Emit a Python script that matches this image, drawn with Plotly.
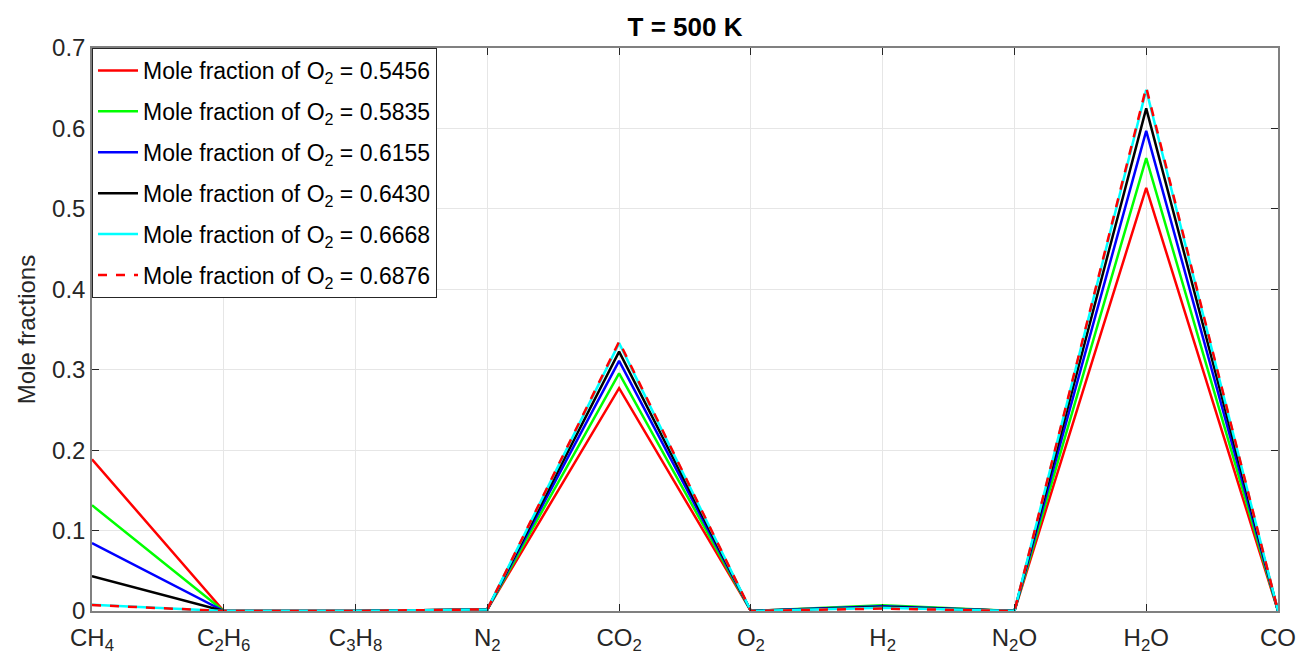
import plotly.graph_objects as go

species = ["CH<sub>4</sub>", "C<sub>2</sub>H<sub>6</sub>", "C<sub>3</sub>H<sub>8</sub>", "N<sub>2</sub>",
           "CO<sub>2</sub>", "O<sub>2</sub>", "H<sub>2</sub>", "N<sub>2</sub>O", "H<sub>2</sub>O", "CO"]
o2_fracs = ["0.5456", "0.5835", "0.6155", "0.6430", "0.6668", "0.6876"]

s1 = [0.1886, 0.0, 0.0, 0.002, 0.277, 0.0, 0.006, 0.0, 0.526, 0.0]
s2 = [0.1315, 0.0, 0.0, 0.002, 0.2955, 0.0, 0.007, 0.0, 0.563, 0.0]
s3 = [0.0844, 0.0, 0.0, 0.002, 0.311, 0.0, 0.006, 0.0, 0.597, 0.0]
s4 = [0.0434, 0.0, 0.0, 0.002, 0.3225, 0.0, 0.005, 0.0, 0.625, 0.0]
s5 = [0.0078, 0.0, 0.0, 0.002, 0.333, 0.0, 0.004, 0.0, 0.648, 0.0]
s6 = [0.0074, 0.0, 0.0, 0.002, 0.335, 0.0, 0.003, 0.0, 0.651, 0.0]
series = [s1, s2, s3, s4, s5, s6]

colors = ["#ff0000", "#00ff00", "#0000ff", "#000000", "#00ffff", "#ff0000"]
dashes = ["solid", "solid", "solid", "solid", "solid", "dash"]

x = list(range(len(species)))

fig = go.Figure()
for i, (vals, frac, c, d) in enumerate(zip(series, o2_fracs, colors, dashes)):
    fig.add_trace(go.Scatter(
        x=x, y=vals, mode="lines",
        line=dict(color=c, width=2.5, dash=d),
        name=f"Mole fraction of O<sub>2</sub> = {frac}",
        legendgroup=f"g{i}",
    ))

axis_color = "#262626"
fig.update_layout(
    width=1298, height=660,
    margin=dict(l=92, r=20, t=48, b=49),
    paper_bgcolor="white", plot_bgcolor="white",
    font=dict(family="Liberation Sans, Arial, sans-serif", size=24, color=axis_color),
    title=dict(text="<b>T = 500 K</b>", x=0.5, xref="paper", xanchor="center",
               y=1 - 27 / 660, yref="container", yanchor="middle",
               font=dict(size=26, color="#000000")),
    showlegend=True,
    legend=dict(x=0, y=1, xanchor="left", yanchor="top",
                bgcolor="white", bordercolor="#262626", borderwidth=1,
                font=dict(size=23, color="#000000"), tracegroupgap=8,
                itemwidth=40),
)
fig.update_xaxes(
    range=[0, 9], tickmode="array", tickvals=x, ticktext=species,
    showgrid=True, gridcolor="#e6e6e6", gridwidth=1,
    showline=True, linecolor="#808080", linewidth=1.5, mirror="ticks",
    ticks="inside", ticklen=7, tickcolor=axis_color,
    tickfont=dict(size=24, color=axis_color), zeroline=False,
    ticklabelstandoff=4, automargin=False,
)
fig.update_yaxes(
    range=[0, 0.7], tickmode="array",
    tickvals=[0, 0.1, 0.2, 0.3, 0.4, 0.5, 0.6, 0.7],
    ticktext=["0", "0.1", "0.2", "0.3", "0.4", "0.5", "0.6", "0.7"],
    showgrid=True, gridcolor="#e6e6e6", gridwidth=1,
    showline=True, linecolor="#808080", linewidth=1.5, mirror="ticks",
    ticks="inside", ticklen=7, tickcolor=axis_color,
    tickfont=dict(size=24, color=axis_color), zeroline=False,
    title=dict(text="Mole fractions", font=dict(size=24, color=axis_color), standoff=10),
    automargin=False,
)

fig.write_html("out.html")
